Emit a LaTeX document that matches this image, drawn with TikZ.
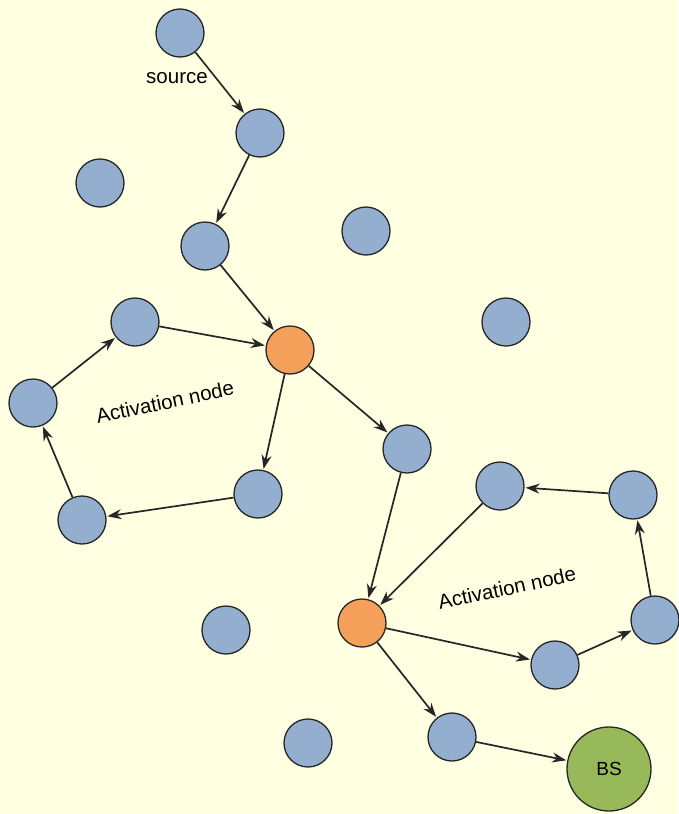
\documentclass[tikz,border=0pt]{standalone}
\usepackage{fontspec}
\setmainfont{Liberation Sans}
\usetikzlibrary{arrows.meta}
\definecolor{bgyellow}{HTML}{FFFFE2}
\definecolor{nodeblue}{HTML}{94AECF}
\definecolor{nodeorange}{HTML}{F4A05B}
\definecolor{nodegreen}{HTML}{97B95A}
\definecolor{edgegray}{HTML}{262626}
\begin{document}
\begin{tikzpicture}[x=1pt,y=-1pt,
  sensor/.style={circle,draw=edgegray,line width=1.3pt,fill=nodeblue,minimum size=48pt,inner sep=0pt},
  active/.style={sensor,fill=nodeorange},
  sink/.style={circle,draw=edgegray,line width=1.3pt,fill=nodegreen,minimum size=84pt,inner sep=0pt,font=\fontsize{19}{22}\selectfont},
  link/.style={draw=edgegray,line width=1.7pt,-{Stealth[length=14pt,width=10pt]},shorten >=1pt},
  caption/.style={font=\fontsize{20.5}{24}\selectfont,text=black}]
  \fill[bgyellow] (0,0) rectangle (678,814);
  \useasboundingbox (0,0) rectangle (678,814);

  % sensor field
  \node[sensor] (n1) at (180,33) {};
  \node[sensor] (n2) at (260,133) {};
  \node[sensor] (n3) at (100,183) {};
  \node[sensor] (n4) at (205,246) {};
  \node[sensor] (n5) at (366,231) {};
  \node[sensor] (n6) at (135,322) {};
  \node[active] (a1) at (290,350) {};
  \node[sensor] (n8) at (506,322) {};
  \node[sensor] (n9) at (33,403) {};
  \node[sensor] (n10) at (407,449) {};
  \node[sensor] (n11) at (258,494) {};
  \node[sensor] (n12) at (82,520) {};
  \node[sensor] (n13) at (500,486) {};
  \node[sensor] (n14) at (633,495) {};
  \node[active] (a2) at (362,623) {};
  \node[sensor] (n16) at (226,630) {};
  \node[sensor] (n17) at (655,620) {};
  \node[sensor] (n18) at (555,665) {};
  \node[sensor] (n19) at (452,737) {};
  \node[sensor] (n20) at (308,743) {};
  \node[sink] (bs) at (609,769) {BS};

  % labels
  \node[caption] (src) at (177,78) {source};
  \node[caption,rotate=12] (act1) at (165,402) {Activation node};
  \node[caption,rotate=12] (act2) at (507,588) {Activation node};

  % routing path and activation loops
  \draw[link] (n1) -- (n2);
  \draw[link] (n2) -- (n4);
  \draw[link] (n4) -- (a1);
  \draw[link] (n6) -- (a1);
  \draw[link] (a1) -- (n11);
  \draw[link] (a1) -- (n10);
  \draw[link] (n11) -- (n12);
  \draw[link] (n12) -- (n9);
  \draw[link] (n9) -- (n6);
  \draw[link] (n10) -- (a2);
  \draw[link] (n13) -- (a2);
  \draw[link] (n14) -- (n13);
  \draw[link] (n17) -- (n14);
  \draw[link] (n18) -- (n17);
  \draw[link] (a2) -- (n18);
  \draw[link] (a2) -- (n19);
  \draw[link] (n19) -- (bs);
\end{tikzpicture}
\end{document}
